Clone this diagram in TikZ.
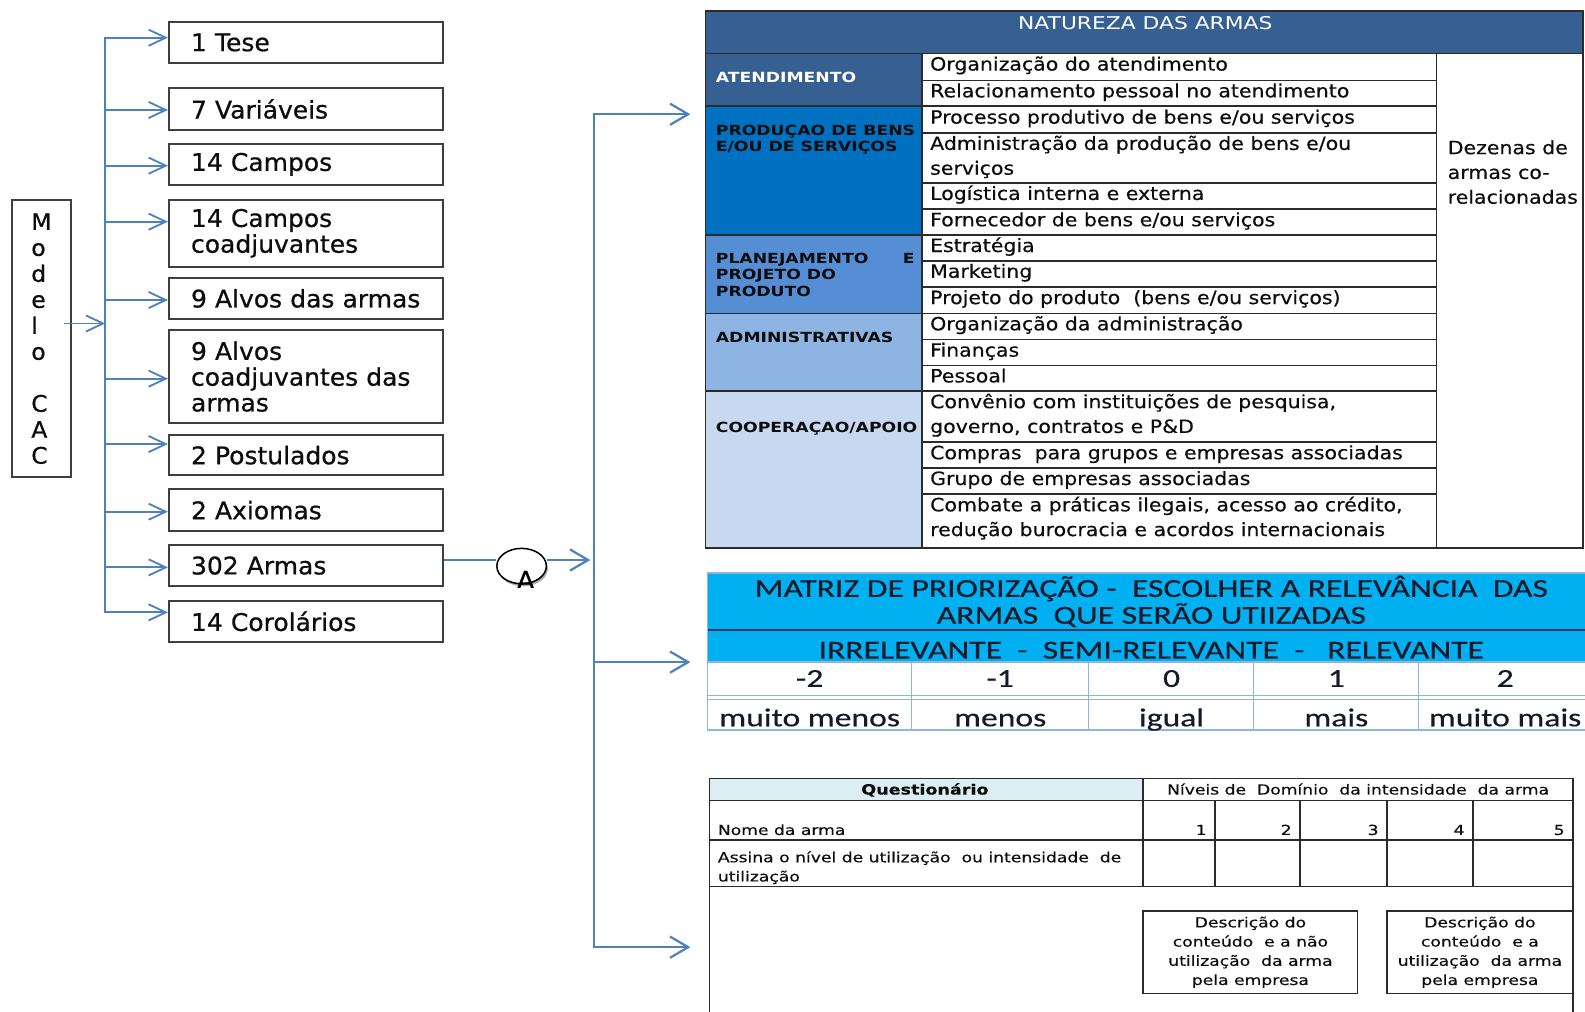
\documentclass[tikz,border=0pt]{standalone}
\usepackage{fontspec}
\usetikzlibrary{arrows.meta,shadows,shapes.geometric,calc}
\setmainfont{DejaVu Sans}
\newfontfamily\boxfont[FakeStretch=1.03, FakeBold=0.7]{DejaVu Sans}
\newfontfamily\itemfont[FakeStretch=1.12, FakeBold=0.4]{DejaVu Sans}
\newfontfamily\catfont[FakeStretch=1.235]{DejaVu Sans}
\newfontfamily\hdrfont[FakeStretch=1.24]{DejaVu Sans}
\newfontfamily\qfont[FakeStretch=1.24, FakeBold=0.3]{DejaVu Sans}
\newfontfamily\matfont[FakeStretch=1.3, FakeBold=0.4]{Carlito}

\definecolor{conn}{HTML}{4F81BD}
\definecolor{frame}{HTML}{3F3F3F}
\definecolor{grid}{HTML}{2B2B2B}
\definecolor{navyhdr}{HTML}{376092}
\definecolor{catB}{HTML}{0070C0}
\definecolor{catC}{HTML}{558ED5}
\definecolor{catD}{HTML}{8DB4E2}
\definecolor{catE}{HTML}{C6D9F1}
\definecolor{matblue}{HTML}{00B0F0}
\definecolor{matgrid}{HTML}{8DB4E2}
\definecolor{matdark}{HTML}{1F3864}
\definecolor{qhead}{HTML}{DAEEF3}
\definecolor{ink}{HTML}{0D0D0D}
\definecolor{matink}{HTML}{141A2A}

\begin{document}
\begin{tikzpicture}[x=1pt,y=-1pt,
  lbox/.style={draw=frame, line width=1.8pt, minimum width=271pt, inner xsep=22pt,
    inner ysep=0pt, text width=227pt, align=left, text=ink,
    font=\boxfont\fontsize{24}{25.5}\selectfont},
  conn/.style={draw=conn, line width=1.8pt},
  connw/.style={draw=conn, line width=2.2pt},
  ltip/.style={-{Straight Barb[length=17pt,width=16pt]}},
  ltips/.style={{Straight Barb[length=17pt,width=16pt]}-{Straight Barb[length=17pt,width=16pt]}},
  rtip/.style={-{Straight Barb[length=18pt,width=21pt]}},
  rtips/.style={{Straight Barb[length=18pt,width=21pt]}-{Straight Barb[length=18pt,width=21pt]}},
  tgrid/.style={draw=grid, line width=1.6pt},
  mgrid/.style={draw=matgrid, line width=1.4pt},
  item/.style={anchor=base west, inner sep=0pt, text=ink,
    font=\itemfont\fontsize{18.1}{24.5}\selectfont},
  cat/.style={anchor=base west, inner sep=0pt, text=ink,
    font=\catfont\bfseries\fontsize{13.8}{17}\selectfont},
  mat/.style={anchor=base, inner sep=0pt, text=matink,
    font=\matfont\fontsize{25.6}{27}\selectfont},
  qtxt/.style={inner sep=0pt, text=ink, font=\qfont\fontsize{13.7}{19}\selectfont},
  dbox/.style={draw=grid, line width=1.6pt, inner sep=0pt, align=center, text=ink,
    font=\qfont\fontsize{13.7}{19}\selectfont}
]
\useasboundingbox (0,0) rectangle (1568,1001);
\fill[white] (0,0) rectangle (1568,1001);
\clip (0,0) rectangle (1568,1001);

% ---------- Modelo CAC and its components ----------
\node[draw=frame, line width=1.8pt, minimum width=58pt, minimum height=274pt,
      inner sep=0pt, align=left, text=ink,
      font=\boxfont\fontsize{22.5}{25.7}\selectfont] (modelo) at (41,335)
      {M\\o\\d\\e\\l\\o\\[25.7pt]C\\A\\C};

\foreach \n/\c/\h/\s/\t in {
  tese/42/40.5/4.7/{1 Tese},
  var/107.8/41.6/-1/{7 Variáveis},
  campos/162.6/40.2/-1.3/{14 Campos},
  coad/230.8/65.9/11.5/{14 Campos\\coadjuvantes},
  alvos/295.2/40.3/-1.6/{9 Alvos das armas},
  alvosc/372.6/92.3/-2/{9 Alvos\\coadjuvantes das\\armas},
  post/450.3/39.9/11/{2 Postulados},
  axi/504.7/41.3/-1.5/{2 Axiomas},
  armas/559.5/39.9/-1.8/{302 Armas},
  coro/614.7/40.2/8.9/{14 Corolários}}
{
  \node[lbox, minimum height=\h pt] (\n) at (302.5,\c) {\t};
  \coordinate (\n-in) at ([yshift=\s pt]\n.west);
}

% spine with the branch arrows
\path (tese-in) ++(-62,0) coordinate (sp-top);
\path (coro-in) ++(-62,0) coordinate (sp-bot);
\draw[conn, ltips] (coro-in) -- (sp-bot) -- (sp-top) -- (tese-in);
\foreach \n in {var,campos,coad,alvos,alvosc,post,axi,armas}
  \draw[conn, ltip] (sp-top |- \n-in) -- (\n-in);
\coordinate (modelo-out) at ([shift={(-7.5pt,15pt)}]modelo.east);
\draw[conn, ltip] (modelo-out) -- (sp-top |- modelo-out);

% connector A towards the three tables
\node[ellipse, draw=black, line width=1.5pt, fill=white, minimum width=49pt,
      minimum height=35pt, inner sep=0pt,
      drop shadow={shadow xshift=1.5pt, shadow yshift=-2.5pt, fill=black!55, opacity=0.6}]
      (circ) at (516,560) {};
\begin{scope}
  \clip (490,556) rectangle (552,581);
  \node[anchor=base, inner sep=0pt, font=\boxfont\fontsize{25}{25}\selectfont] (alab) at (520,583) {A};
\end{scope}

\coordinate (armas-out) at ([yshift=5.5pt]armas.east);
\draw[connw] (armas-out) -- (armas-out -| circ.west);

\coordinate (bus-top) at (588,113);
\coordinate (bus-mid) at (588,655);
\coordinate (bus-bot) at (588,937);
\coordinate (t-nat) at (683,113);
\coordinate (t-mat) at (683,655);
\coordinate (t-que) at (683,937);
\coordinate (bus-armas) at (bus-top |- armas-out);
\draw[connw, rtip, shorten >=4pt] (circ.east |- armas-out) -- (bus-armas);
\draw[connw, rtips] (t-que) -- (bus-bot) -- (bus-top) -- (t-nat);
\draw[connw, rtip] (bus-mid) -- (t-mat);

% ---------- Natureza das armas ----------
\fill[navyhdr] (698,11) rectangle (1566,53);
\fill[navyhdr] (698,53) rectangle (912,105);
\fill[catB] (698,105) rectangle (912,232.5);
\fill[catC] (698,232.5) rectangle (912,310);
\fill[catD] (698,310) rectangle (912,387);
\fill[catE] (698,387) rectangle (912,542);
\draw[tgrid] (698,11) rectangle (1566,542);
\draw[tgrid] (698,53) -- (1566,53);
\draw[tgrid] (912,53) -- (912,542) (1421,53) -- (1421,542);
\foreach \y in {105,232.5,310,387} \draw[tgrid] (698,\y) -- (1421,\y);
\foreach \y in {79.5,131.5,181,207,258,284,336,361.5,437.5,463,489}
  \draw[tgrid] (912,\y) -- (1421,\y);

\node[anchor=base, inner sep=0pt, text=white, font=\hdrfont\fontsize{17.4}{20}\selectfont]
  (nat-hdr) at (1133,29) {NATUREZA DAS ARMAS};

\node[cat, text=white] (c-at) at (708,81.5) {ATENDIMENTO};
\node[cat] (c-pr1) at (708,133.6) {PRODUÇAO DE BENS};
\node[cat] (c-pr2) at (708,150.3) {E/OU DE SERVIÇOS};
\node[cat] (c-pl1) at (708,260.5) {PLANEJAMENTO};
\node[cat, anchor=base east] (c-pl1e) at (905,260.5) {E};
\node[cat] (c-pl2) at (708,276.5) {PROJETO DO};
\node[cat] (c-pl3) at (708,293) {PRODUTO};
\node[cat] (c-ad) at (708,338.5) {ADMINISTRATIVAS};
\node[cat] (c-co) at (708,428) {COOPERAÇAO/APOIO};

\foreach \b/\t [count=\i] in {
  69.8/{Organização do atendimento},
  96.3/{Relacionamento pessoal no atendimento},
  122.3/{Processo produtivo de bens e/ou serviços},
  148.3/{Administração da produção de bens e/ou},
  172.8/{serviços},
  197.8/{Logística interna e externa},
  223.8/{Fornecedor de bens e/ou serviços},
  249.3/{Estratégia},
  274.8/{Marketing},
  300.8/{Projeto do produto\ \ (bens e/ou serviços)},
  326.8/{Organização da administração},
  352.8/{Finanças},
  378.3/{Pessoal},
  403.8/{Convênio com instituições de pesquisa,},
  428.3/{governo, contratos e P\&D},
  454.3/{Compras\ \ para grupos e empresas associadas},
  479.8/{Grupo de empresas associadas},
  505.8/{Combate a práticas ilegais, acesso ao crédito,},
  530.3/{redução burocracia e acordos internacionais}}
  \node[item] (it\i) at (920,\b) {\t};

\node[item] (dz1) at (1432,152.5) {Dezenas de};
\node[item] (dz2) at (1432,177) {armas co-};
\node[item] (dz3) at (1432,201.5) {relacionadas};

% ---------- Matriz de priorização ----------
\fill[matblue] (700,567) rectangle (1576,655);
\draw[mgrid] (700,567) rectangle (1576,722);
\draw[mgrid] (700,655) -- (1576,655);
\draw[mgrid] (700,688) -- (1576,688) (700,692) -- (1576,692);
\foreach \x in {902,1077,1240,1403} \draw[mgrid] (\x,655) -- (\x,722);
\draw[draw=matdark, line width=2.2pt] (700,623) -- (1576,623);

\node[mat] (m-t1) at (1139,590.5) {MATRIZ DE PRIORIZAÇÃO -\ \ ESCOLHER A RELEVÂNCIA\ \ DAS};
\node[mat] (m-t2) at (1139,617) {ARMAS\ \ QUE SERÃO UTIIZADAS};
\node[mat] (m-sub) at (1139,651.5) {IRRELEVANTE\ \ -\ \ SEMI-RELEVANTE\ \ -\ \ \ RELEVANTE};
\foreach \x/\v/\w [count=\i] in {801/-2/muito menos, 989.5/-1/menos, 1159/0/igual,
    1322/1/mais, 1489/2/muito mais}
{
  \node[mat] (m-v\i) at (\x,679.5) {\v};
  \node[mat] (m-w\i) at (\x,718.5) {\w};
}

% ---------- Questionário ----------
\fill[qhead] (702,770) rectangle (1131,792);
\draw[tgrid] (702,1010) -- (702,770) -- (1556,770) -- (1556,1010);
\draw[tgrid] (702,792) -- (1556,792) (702,831) -- (1556,831) (702,877) -- (1556,877);
\draw[tgrid] (1131,770) -- (1131,877);
\foreach \x in {1202,1286,1372,1457} \draw[tgrid] (\x,792) -- (\x,877);

\node[qtxt, anchor=base, font=\qfont\bfseries\fontsize{14}{19}\selectfont] (q-hdr) at (915,786) {Questionário};
\node[qtxt, anchor=base] (q-niv) at (1343.5,786) {Níveis de\ \ Domínio\ \ da intensidade\ \ da arma};
\node[qtxt, anchor=base west] (q-nome) at (710,826) {Nome da arma};
\foreach \x/\v in {1194/1, 1278/2, 1364/3, 1449/4, 1548/5}
  \node[qtxt, anchor=base east] (q-n\v) at (\x,826) {\v};
\node[qtxt, anchor=base west] (q-as1) at (710,853) {Assina o nível de utilização\ \ ou intensidade\ \ de};
\node[qtxt, anchor=base west] (q-as2) at (710,872) {utilização};

\node[dbox, minimum width=212pt, minimum height=82pt] (desc1) at (1237,942)
  {Descrição do\\conteúdo\ \ e a não\\utilização\ \ da arma\\pela empresa};
\node[dbox, minimum width=184pt, minimum height=82pt] (desc2) at (1464,942)
  {Descrição do\\conteúdo\ \ e a\\utilização\ \ da arma\\pela empresa};
\end{tikzpicture}
\end{document}
